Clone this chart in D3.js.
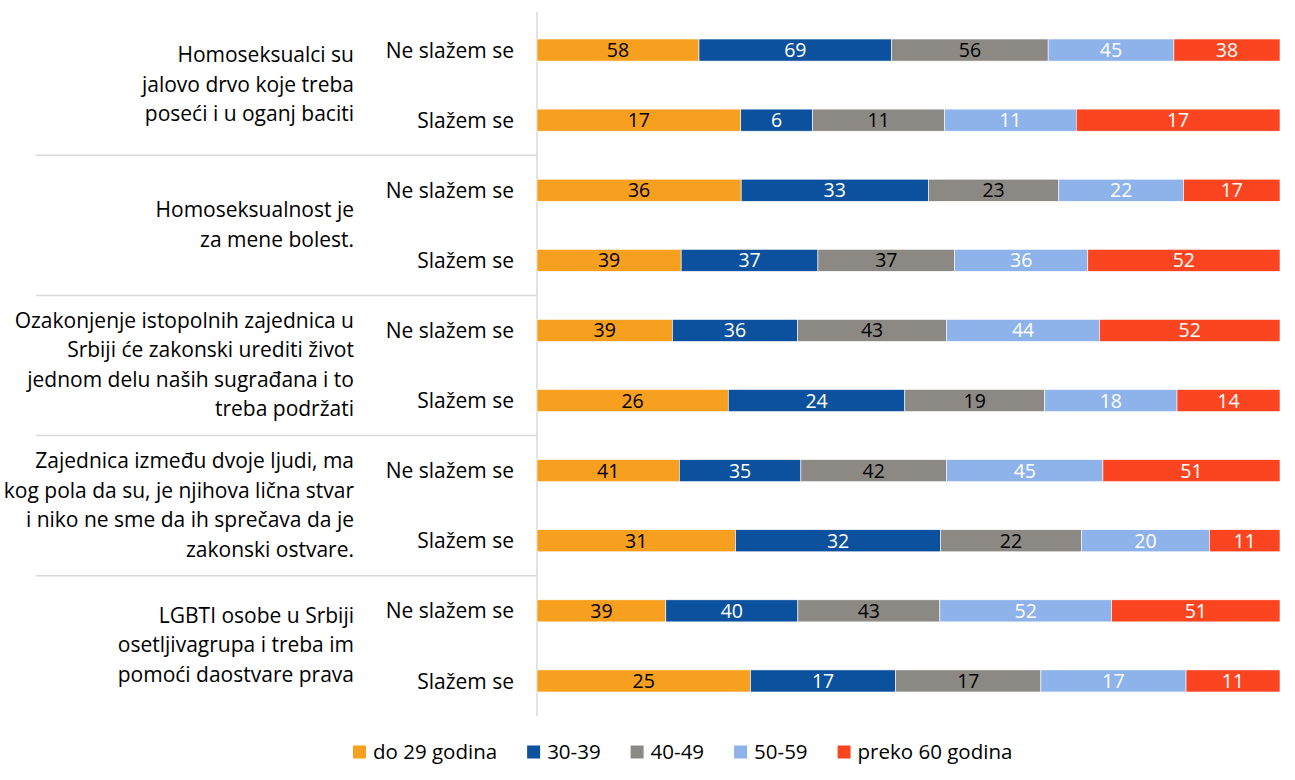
<!DOCTYPE html>
<html>
<head>
<meta charset="utf-8">
<script src="https://cdn.jsdelivr.net/npm/d3@7"></script>
<style>
  body { margin: 0; background: #fff; }
  text { font-family: "Open Sans", "Lato", sans-serif; }
</style>
</head>
<body>
<div id="chart"></div>
<script>
// Data
const statements = [
    ["Homoseksualci su", "jalovo drvo koje treba", "poseći i u oganj baciti"],
    ["Homoseksualnost je", "za mene bolest."],
    ["Ozakonjenje istopolnih zajednica u", "Srbiji će zakonski urediti život", "jednom delu naših sugrađana i to", "treba podržati"],
    ["Zajednica između dvoje ljudi, ma", "kog pola da su, je njihova lična stvar", "i niko ne sme da ih sprečava da je", "zakonski ostvare."],
    ["LGBTI osobe u Srbiji", "osetljivagrupa i treba im", "pomoći daostvare prava"]
];
const answers = ["Ne slažem se", "Slažem se"];
const ageGroups = ["do 29 godina", "30-39", "40-49", "50-59", "preko 60 godina"];
const colors = ["#F79F1F", "#0B519E", "#8C8984", "#8DB3EA", "#FA4520"];
const labelColors = ["#000", "#fff", "#000", "#fff", "#fff"];

const disagreeValues = [
    [58, 69, 56, 45, 38],
    [36, 33, 23, 22, 17],
    [39, 36, 43, 44, 52],
    [41, 35, 42, 45, 51],
    [39, 40, 43, 52, 51]
];
const agreeValues = [
    [17, 6, 11, 11, 17],
    [39, 37, 37, 36, 52],
    [26, 24, 19, 18, 14],
    [31, 32, 22, 20, 11],
    [25, 17, 17, 17, 11]
];

// Build rows
const rows = [];
statements.forEach((s, i) => {
    rows.push({key: `${i}-0`, group: i, answer: answers[0], values: disagreeValues[i]});
    rows.push({key: `${i}-1`, group: i, answer: answers[1], values: agreeValues[i]});
});

const width = 1295, height = 780;
const plotLeft = 537, plotRight = 1280, plotTop = 15, plotBottom = 716;

const svg = d3.select("#chart")
    .append("svg")
    .attr("width", width)
    .attr("height", height);

const x = d3.scaleLinear()
    .domain([0, 1])
    .range([plotLeft, plotRight]);

const y = d3.scaleBand()
    .domain(rows.map(d => d.key))
    .range([plotTop, plotBottom])
    .paddingInner(0.685)
    .paddingOuter(0.3425);

// Separator lines between statements
const groupH = (plotBottom - plotTop) / statements.length;
svg.selectAll(".sep")
    .data(d3.range(1, statements.length))
    .enter().append("line")
    .attr("x1", 36)
    .attr("x2", plotLeft)
    .attr("y1", i => plotTop + i * groupH)
    .attr("y2", i => plotTop + i * groupH)
    .attr("stroke", "#d9d9d9")
    .attr("stroke-width", 1.5);

// Axis line
svg.append("line")
    .attr("x1", plotLeft).attr("x2", plotLeft)
    .attr("y1", 12).attr("y2", plotBottom)
    .attr("stroke", "#d9d9d9")
    .attr("stroke-width", 1.5);

// Stack each row to 100%
const segments = [];
rows.forEach(r => {
    const total = d3.sum(r.values);
    let acc = 0;
    r.values.forEach((v, j) => {
        segments.push({row: r, idx: j, value: v, x0: acc / total, x1: (acc + v) / total});
        acc += v;
    });
});

svg.selectAll(".bar")
    .data(segments)
    .enter().append("rect")
    .attr("class", "bar")
    .attr("x", d => x(d.x0))
    .attr("width", d => x(d.x1) - x(d.x0))
    .attr("y", d => y(d.row.key))
    .attr("height", y.bandwidth())
    .attr("fill", d => colors[d.idx])
    .attr("stroke", "#fff")
    .attr("stroke-width", 0.6);

svg.selectAll(".val")
    .data(segments)
    .enter().append("text")
    .attr("x", d => (x(d.x0) + x(d.x1)) / 2)
    .attr("y", d => y(d.row.key) + y.bandwidth() / 2)
    .attr("dy", "0.36em")
    .attr("text-anchor", "middle")
    .attr("font-size", 19.5)
    .attr("fill", d => labelColors[d.idx])
    .text(d => d.value);

// Answer labels
svg.selectAll(".ans")
    .data(rows)
    .enter().append("text")
    .attr("x", 514)
    .attr("y", d => y(d.key) + y.bandwidth() / 2)
    .attr("dy", "0.36em")
    .attr("text-anchor", "end")
    .attr("font-size", 21)
    .attr("fill", "#000")
    .text(d => d.answer);

// Statement labels
const lineH = 29.5;
statements.forEach((lines, i) => {
    const cy = plotTop + groupH * i + groupH / 2 - 1;
    const t = svg.append("text")
        .attr("text-anchor", "end")
        .attr("font-size", 21)
        .attr("fill", "#000");
    lines.forEach((ln, k) => {
        t.append("tspan")
            .attr("x", 354)
            .attr("y", cy + (k - (lines.length - 1) / 2) * lineH)
            .attr("dy", "0.36em")
            .text(ln);
    });
});

// Legend
const legend = svg.append("g")
    .attr("transform", "translate(353,752)");

let lx = 0;
ageGroups.forEach((name, i) => {
    const item = legend.append("g").attr("transform", `translate(${lx},0)`);
    item.append("rect")
        .attr("x", 0)
        .attr("y", -6.5)
        .attr("width", 13)
        .attr("height", 13)
        .attr("fill", colors[i]);
    const label = item.append("text")
        .attr("x", 20)
        .attr("y", 0)
        .attr("dy", "0.36em")
        .attr("font-size", 20.5)
        .attr("fill", "#000")
        .text(name);
    lx += 20 + label.node().getComputedTextLength() + 30;
});
</script>
</body>
</html>
